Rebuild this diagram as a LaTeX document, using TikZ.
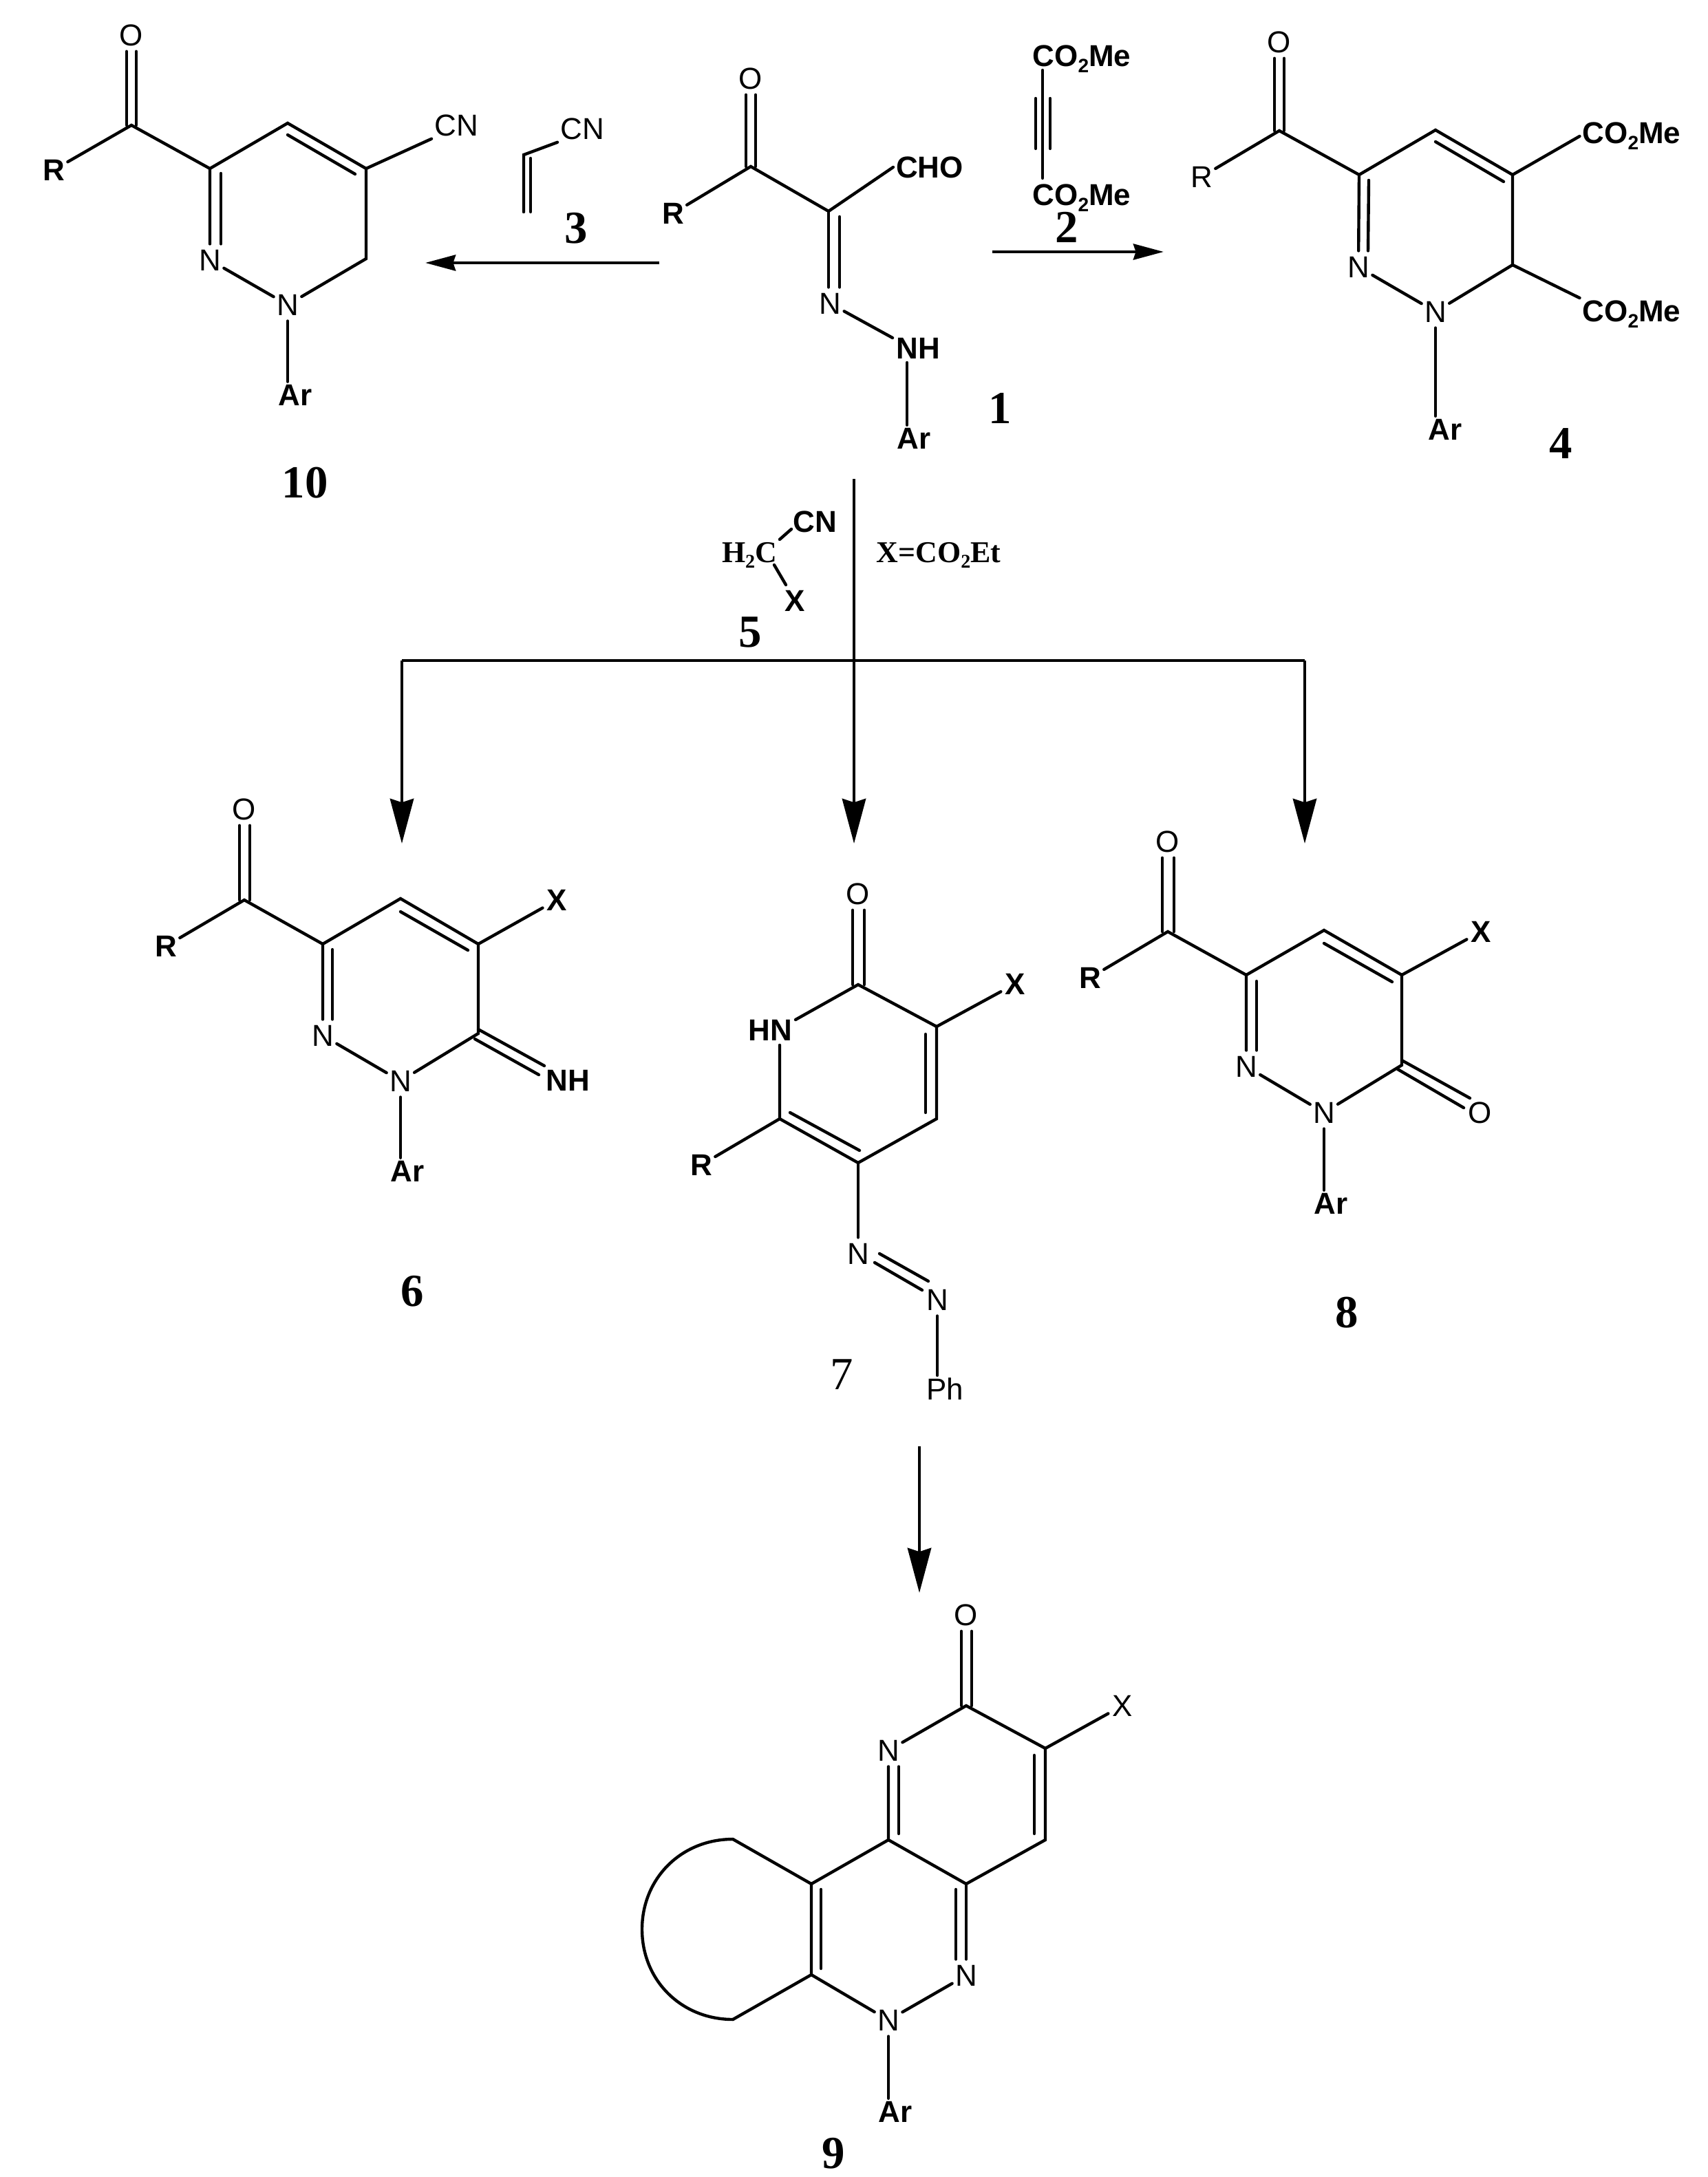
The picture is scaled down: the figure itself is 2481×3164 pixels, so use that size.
\documentclass[tikz,border=0pt]{standalone}
\usepackage{fontspec}
\setmainfont{Liberation Serif}
\setsansfont{Liberation Sans}
\usetikzlibrary{arrows.meta}

\newcommand{\subtwo}{\raisebox{-2.5pt}{\fontsize{8}{8}\selectfont 2}}

\tikzset{
  bond/.style={line width=1.25pt,line cap=round},
  rarrow/.style={line width=1.4pt,-{Stealth[length=12.5pt,width=6.5pt,inset=1pt]}},
  rarrowv/.style={line width=1.4pt,-{Stealth[length=18.5pt,width=9.7pt,inset=1.5pt]}},
  rline/.style={line width=1.4pt},
  atom/.style={circle,inner sep=0pt,minimum size=13pt,font=\fontsize{12.5}{15}\selectfont\sffamily},
  atomb/.style={atom,font=\fontsize{12.5}{15}\selectfont\sffamily\bfseries},
  lab/.style={inner sep=1pt,font=\fontsize{12.5}{15}\selectfont\sffamily},
  labb/.style={lab,font=\fontsize{12.5}{15}\selectfont\sffamily\bfseries},
  num/.style={inner sep=0pt,font=\fontsize{19}{22}\selectfont\rmfamily\bfseries},
  numl/.style={inner sep=0pt,font=\fontsize{19}{22}\selectfont\rmfamily},
  reag/.style={inner sep=0pt,font=\fontsize{12.5}{15}\selectfont\rmfamily\bfseries}
}

\begin{document}
\begin{tikzpicture}[x=0.01cm,y=-0.01cm]
\useasboundingbox (0,0) rectangle (2481,3164);

%compound 10
\node[atom] (jO) at (191,51) {O};
\node[atomb] (jR) at (78,247) {R};
\node[atom] (jN2) at (305,378) {N};
\node[atom] (jN1) at (418,443) {N};
\node[lab] (jCN) at (663,182) {CN};
\node[labb] (jAr) at (429,574) {Ar};
\node[num] (n10) at (443,702) {10};
\coordinate (jC) at (191,182);
\coordinate (jC3) at (305,245);
\coordinate (jC4) at (418,179);
\coordinate (jC5) at (532,245);
\coordinate (jC6) at (532,376);
\draw[bond] ([shift={(-7,0)}]jC) -- ([shift={(-7,0)}]jO.south);
\draw[bond] ([shift={(7,0)}]jC) -- ([shift={(7,0)}]jO.south);
\draw[bond] (jR) -- (jC) -- (jC3) -- (jC4) -- (jC5) -- (jC6) -- (jN1) -- (jN2) -- (jC3);
\draw[bond] ([shift={(16,7)}]jC3) -- ([shift={(16,0)}]jN2.north);
\draw[bond] ([shift={(0,17)}]jC4) -- ([shift={(-16,8)}]jC5);
\draw[bond] (jC5) -- (jCN.south west);
\draw[bond] (jN1) -- (jN1 |- jAr.north);

%acrylonitrile 3
\node[lab] (tCN) at (846,187) {CN};
\node[num] (n3) at (837,332) {3};
\coordinate (tA) at (761,225);
\coordinate (tB) at (761,308);
\draw[bond] (tCN.south west) -- (tA) -- (tB);
\draw[bond] ([shift={(10,5)}]tA) -- ([shift={(10,0)}]tB);

%compound 1
\node[atom] (aO) at (1091,114) {O};
\node[atomb] (aR) at (978,310) {R};
\node[atom] (aN) at (1206,441) {N};
\node[labb] (aCHO) at (1351,243) {CHO};
\node[labb] (aNH) at (1334,506) {NH};
\node[labb] (aAr) at (1328,637) {Ar};
\node[num] (n1) at (1453,593) {1};
\coordinate (aC) at (1091,242);
\coordinate (aC2) at (1204,307);
\coordinate (aNb) at (1297,491);
\coordinate (aNt) at (1318,527);
\draw[bond] ([shift={(-7,0)}]aC) -- ([shift={(-7,0)}]aO.south);
\draw[bond] ([shift={(7,0)}]aC) -- ([shift={(7,0)}]aO.south);
\draw[bond] (aR) -- (aC) -- (aC2) -- (aCHO.west);
\draw[bond] (aC2) -- (aC2 |- aN.north);
\draw[bond] ([shift={(16,8)}]aC2) -- ([shift={(14,0)}]aN.north);
\draw[bond] (aN) -- (aNb);
\draw[bond] (aNt) -- (aNt |- aAr.north);

%acetylene 2
\node[labb] (dA) at (1572,86) {CO\subtwo Me};
\node[labb] (dB) at (1572,288) {CO\subtwo Me};
\node[num] (n2) at (1550,330) {2};
\coordinate (dT) at (1515,102);
\coordinate (dU) at (1515,259);
\coordinate (dL) at (1515,143);
\coordinate (dM) at (1515,216);
\draw[bond] (dT) -- (dU);
\draw[bond] ([shift={(-10,0)}]dL) -- ([shift={(-10,0)}]dM);
\draw[bond] ([shift={(11,0)}]dL) -- ([shift={(11,0)}]dM);

%compound 4
\node[atom] (bO) at (1859,61) {O};
\node[atom] (bR) at (1746,257) {R};
\node[atom] (bN2) at (1974,388) {N};
\node[atom] (bN1) at (2086,453) {N};
\node[labb] (bMa) at (2371,198) {CO\subtwo Me};
\node[labb] (bMb) at (2371,457) {CO\subtwo Me};
\node[labb] (bAr) at (2100,624) {Ar};
\node[num] (n4) at (2268,645) {4};
\coordinate (bC) at (1859,190);
\coordinate (bC3) at (1975,254);
\coordinate (bC4) at (2086,189);
\coordinate (bC5) at (2198,254);
\coordinate (bC6) at (2198,385);
\draw[bond] ([shift={(-7,0)}]bC) -- ([shift={(-7,0)}]bO.south);
\draw[bond] ([shift={(7,0)}]bC) -- ([shift={(7,0)}]bO.south);
\draw[bond] (bR) -- (bC) -- (bC3) -- (bC4) -- (bC5) -- (bC6) -- (bN1) -- (bN2) -- (bC3);
\draw[bond] ([shift={(14,8)}]bC3) -- ([shift={(14,0)}]bN2.north);
\draw[bond] ([shift={(0,17)}]bC4) -- ([shift={(-13,10)}]bC5);
\draw[bond] (bC5) -- (bMa.west);
\draw[bond] (bC6) -- (bMb.north west);
\draw[bond] (bN1) -- (bN1 |- bAr.north);

%arrows from 1
\coordinate (lS) at (958,382);
\coordinate (lE) at (618,382);
\coordinate (rS) at (1442,366);
\coordinate (rE) at (1691,366);
\coordinate (mS) at (1241,696);
\coordinate (mJ) at (1241,960);
\coordinate (mL) at (584,960);
\coordinate (mR) at (1896,960);
\coordinate (mE) at (1241,1226);
\coordinate (lT) at (584,1226);
\coordinate (rT) at (1896,1226);
\draw[rarrow] (lS) -- (lE);
\draw[rarrow] (rS) -- (rE);
\draw[rline] (mL) -- (mR);
\draw[rarrowv] (mS) -- (mE);
\draw[rarrowv] (mL) -- (lT);
\draw[rarrowv] (mR) -- (rT);

%reagent 5
\node[reag] (eH) at (1089,807) {H\subtwo C};
\node[labb] (eCN) at (1184,758) {CN};
\node[labb] (eX) at (1155,873) {X};
\node[num] (n5) at (1090,919) {5};
\node[reag] (eEt) at (1364,807) {X=CO\subtwo Et};
\coordinate (eA) at (1133,784);
\coordinate (eB) at (1150,769);
\coordinate (eC) at (1125,821);
\coordinate (eD) at (1142,850);
\draw[bond] (eA) -- (eB);
\draw[bond] (eC) -- (eD);

%compound 6
\node[atom] (fO) at (355,1176) {O};
\node[atomb] (fR) at (241,1375) {R};
\node[atom] (fN2) at (469,1505) {N};
\node[atom] (fN1) at (582,1571) {N};
\node[atomb] (fX) at (809,1308) {X};
\node[labb] (fNH) at (825,1570) {NH};
\node[labb] (fAr) at (592,1702) {Ar};
\node[num] (n6) at (599,1877) {6};
\coordinate (fC) at (355,1308);
\coordinate (fC3) at (469,1372);
\coordinate (fC4) at (582,1306);
\coordinate (fC5) at (695,1372);
\coordinate (fC6) at (695,1502);
\coordinate (fNa) at (791,1549);
\coordinate (fNb) at (783,1562);
\draw[bond] ([shift={(-7,0)}]fC) -- ([shift={(-7,0)}]fO.south);
\draw[bond] ([shift={(8,0)}]fC) -- ([shift={(8,0)}]fO.south);
\draw[bond] (fR) -- (fC) -- (fC3) -- (fC4) -- (fC5) -- (fC6) -- (fN1) -- (fN2) -- (fC3);
\draw[bond] ([shift={(14,8)}]fC3) -- ([shift={(14,0)}]fN2.north);
\draw[bond] ([shift={(0,19)}]fC4) -- ([shift={(-15,9)}]fC5);
\draw[bond] (fC5) -- (fX);
\draw[bond] ([shift={(0,-6)}]fC6) -- (fNa);
\draw[bond] ([shift={(-5,8)}]fC6) -- (fNb);
\draw[bond] (fN1) -- (fN1 |- fAr.north);

%compound 7
\node[atom] (gO) at (1247,1299) {O};
\node[labb] (gHN) at (1119,1497) {HN};
\node[atomb] (gX) at (1475,1430) {X};
\node[atomb] (gR) at (1019,1693) {R};
\node[atom] (gNa) at (1247,1822) {N};
\node[atom] (gNb) at (1362,1889) {N};
\node[lab] (gPh) at (1373,2019) {Ph};
\node[numl] (n7) at (1223,1998) {7};
\coordinate (gC) at (1247,1431);
\coordinate (gC3) at (1361,1492);
\coordinate (gC4) at (1361,1626);
\coordinate (gC5) at (1247,1690);
\coordinate (gC6) at (1133,1626);
\coordinate (gHa) at (1156,1482);
\coordinate (gHb) at (1133,1519);
\draw[bond] ([shift={(-8,0)}]gC) -- ([shift={(-8,0)}]gO.south);
\draw[bond] ([shift={(9,0)}]gC) -- ([shift={(9,0)}]gO.south);
\draw[bond] (gHa) -- (gC) -- (gC3) -- (gC4) -- (gC5) -- (gC6) -- (gHb);
\draw[bond] ([shift={(-16,11)}]gC3) -- ([shift={(-16,-9)}]gC4);
\draw[bond] ([shift={(15,-9)}]gC6) -- ([shift={(2,-18)}]gC5);
\draw[bond] (gC3) -- (gX);
\draw[bond] (gC6) -- (gR);
\draw[bond] (gC5) -- (gNa);
\draw[bond] ([shift={(31,0)}]gNa.center) -- ([shift={(-13,-27)}]gNb.center);
\draw[bond] ([shift={(24,13)}]gNa.center) -- ([shift={(-22,-14)}]gNb.center);
\draw[bond] (gNb) -- (gNb |- gPh.north);

%arrow 7 to 9
\coordinate (hS) at (1336,2102);
\coordinate (hE) at (1336,2315);
\draw[rarrowv] (hS) -- (hE);

%compound 8
\node[atom] (kO) at (1697,1223) {O};
\node[atomb] (kR) at (1584,1421) {R};
\node[atom] (kN2) at (1811,1550) {N};
\node[atom] (kN1) at (1924,1617) {N};
\node[atomb] (kX) at (2152,1354) {X};
\node[atom] (kOb) at (2151,1617) {O};
\node[labb] (kAr) at (1934,1749) {Ar};
\node[num] (n8) at (1957,1908) {8};
\coordinate (kC) at (1697,1354);
\coordinate (kC3) at (1811,1417);
\coordinate (kC4) at (1924,1352);
\coordinate (kC5) at (2037,1417);
\coordinate (kC6) at (2037,1548);
\coordinate (kOa) at (2136,1596);
\coordinate (kOc) at (2127,1610);
\draw[bond] ([shift={(-8,0)}]kC) -- ([shift={(-8,0)}]kO.south);
\draw[bond] ([shift={(9,0)}]kC) -- ([shift={(9,0)}]kO.south);
\draw[bond] (kR) -- (kC) -- (kC3) -- (kC4) -- (kC5) -- (kC6) -- (kN1) -- (kN2) -- (kC3);
\draw[bond] ([shift={(15,9)}]kC3) -- ([shift={(15,0)}]kN2.north);
\draw[bond] ([shift={(0,19)}]kC4) -- ([shift={(-14,10)}]kC5);
\draw[bond] (kC5) -- (kX);
\draw[bond] ([shift={(0,-7)}]kC6) -- (kOa);
\draw[bond] ([shift={(-6,6)}]kC6) -- (kOc);
\draw[bond] (kN1) -- (kN1 |- kAr.north);

%compound 9
\node[atom] (mO) at (1404,2347) {O};
\node[atom] (mNa) at (1291,2544) {N};
\node[atom] (mX) at (1631,2479) {X};
\node[atom] (mNb) at (1404,2871) {N};
\node[atom] (mNc) at (1291,2936) {N};
\node[labb] (mAr) at (1301,3069) {Ar};
\node[num] (n9) at (1211,3130) {9};
\coordinate (mC) at (1404,2479);
\coordinate (mC3) at (1519,2541);
\coordinate (mC4) at (1519,2674);
\coordinate (mC5) at (1404,2738);
\coordinate (mC6) at (1291,2674);
\coordinate (mC7) at (1179,2738);
\coordinate (mC8) at (1179,2870);
\coordinate (mP) at (1065,2673);
\coordinate (mQ) at (1065,2935);
\draw[bond] ([shift={(-7,0)}]mC) -- ([shift={(-7,0)}]mO.south);
\draw[bond] ([shift={(8,0)}]mC) -- ([shift={(8,0)}]mO.south);
\draw[bond] (mNa) -- (mC) -- (mC3) -- (mC4) -- (mC5) -- (mC6) -- (mNa);
\draw[bond] ([shift={(15,-9)}]mC6) -- ([shift={(15,0)}]mNa.south);
\draw[bond] ([shift={(-16,10)}]mC3) -- ([shift={(-16,-9)}]mC4);
\draw[bond] (mC3) -- (mX);
\draw[bond] (mC5) -- (mNb);
\draw[bond] ([shift={(-15,8)}]mC5) -- ([shift={(-15,0)}]mNb.north);
\draw[bond] (mNb) -- (mNc) -- (mC8) -- (mC7) -- (mC6);
\draw[bond] ([shift={(14,8)}]mC7) -- ([shift={(14,-9)}]mC8);
\draw[bond] (mP) -- (mC7);
\draw[bond] (mQ) -- (mC8);
\draw[bond] (mP) .. controls (990,2673) and (933,2730) .. (933,2804) .. controls (933,2878) and (990,2935) .. (mQ);
\draw[bond] (mNc) -- (mNc |- mAr.north);

\end{tikzpicture}
\end{document}
